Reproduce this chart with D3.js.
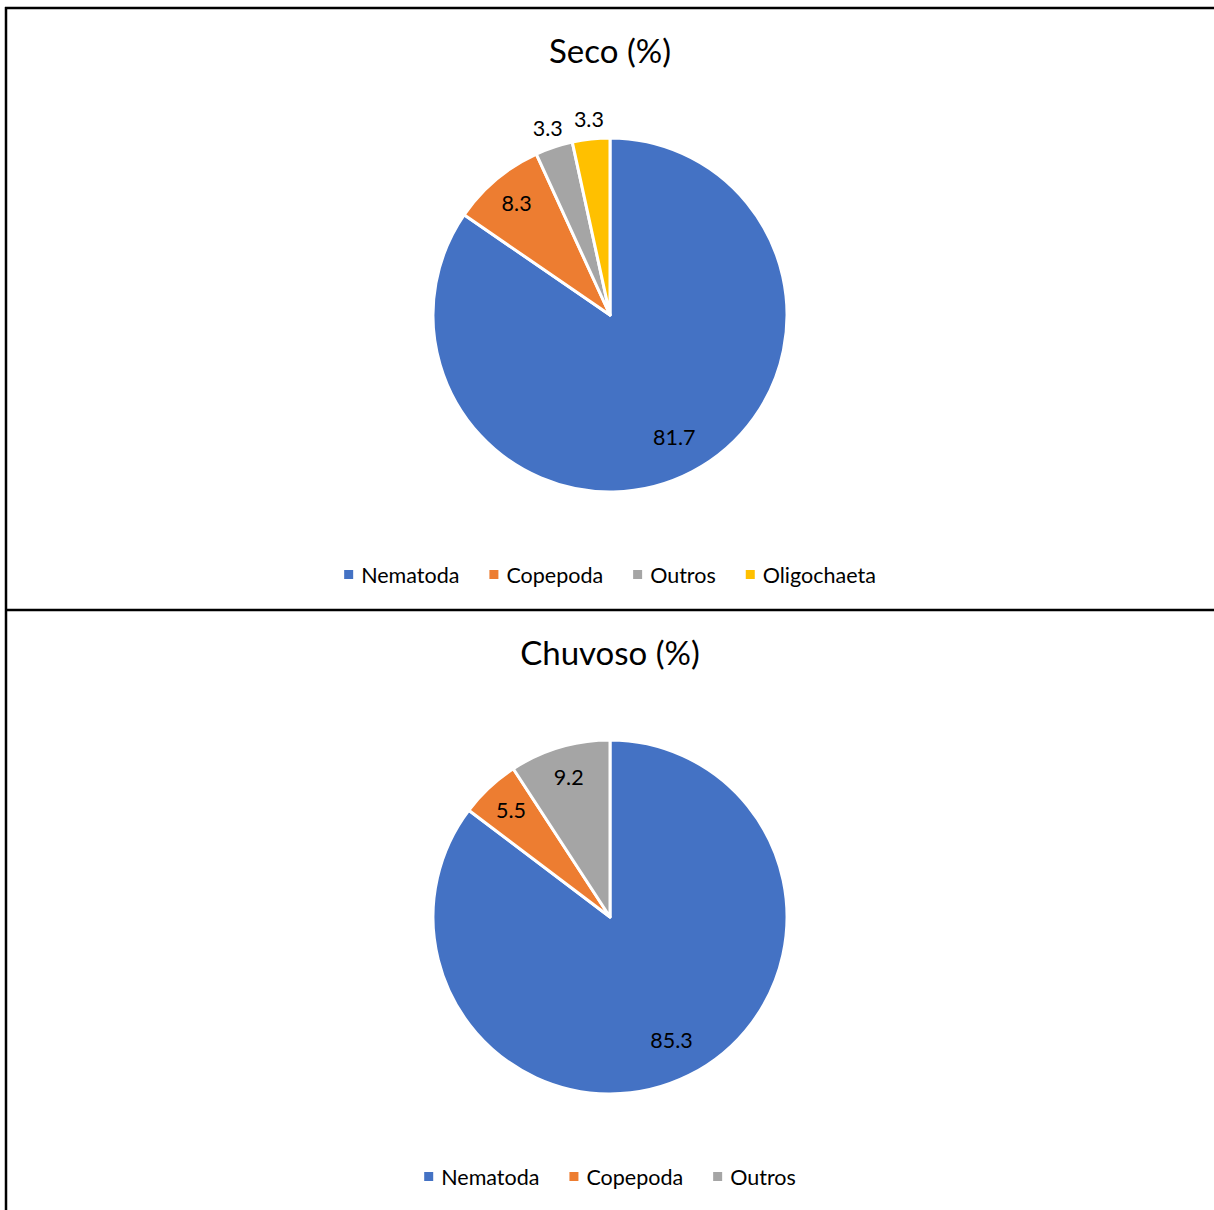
<!DOCTYPE html>
<html>
<head>
<meta charset="utf-8">
<script src="https://cdn.jsdelivr.net/npm/d3@7/dist/d3.min.js"></script>
<style>
  html, body { margin: 0; padding: 0; background: #fff; }
  svg { display: block; }
  text { font-family: Lato, "Open Sans", sans-serif; fill: #000; }
</style>
</head>
<body>
<svg id="chart" width="1214" height="1210"></svg>
<script>
// Fauna composition per season (%)
const categories = ["Nematoda", "Copepoda", "Outros", "Oligochaeta"];
const colors = ["#4472C4", "#ED7D31", "#A5A5A5", "#FFC000"];

const secoCategories = ["Nematoda", "Copepoda", "Outros", "Oligochaeta"];
const secoValues = [81.7, 8.3, 3.3, 3.3];

const chuvosoCategories = ["Nematoda", "Copepoda", "Outros"];
const chuvosoValues = [85.3, 5.5, 9.2];

const panels = [
  { title: "Seco (%)", cats: secoCategories, vals: secoValues, top: 8 },
  { title: "Chuvoso (%)", cats: chuvosoCategories, vals: chuvosoValues, top: 610 }
];

const W = 1214, H = 1210;
const svg = d3.select("#chart");
const color = d3.scaleOrdinal().domain(categories).range(colors);

const cx = 610, radius = 177;

panels.forEach(p => {
  const g = svg.append("g").attr("transform", `translate(0,${p.top})`);
  const cy = 307;

  // title
  g.append("text")
    .attr("x", cx).attr("y", 55)
    .attr("text-anchor", "middle")
    .style("font-size", "33px")
    .text(p.title);

  const data = p.cats.map((c, i) => ({ cat: c, value: p.vals[i] }));
  const pie = d3.pie().sort(null).value(d => d.value).startAngle(0).endAngle(2 * Math.PI);
  const arcs = pie(data);
  const arc = d3.arc().innerRadius(0).outerRadius(radius);
  const inLabel = d3.arc().innerRadius(radius * 0.82).outerRadius(radius * 0.82);
  const bigLabel = d3.arc().innerRadius(radius * 0.78).outerRadius(radius * 0.78);
  const outLabel = d3.arc().innerRadius(radius + 20).outerRadius(radius + 20);

  const pg = g.append("g").attr("transform", `translate(${cx},${cy})`);
  pg.selectAll("path").data(arcs).join("path")
    .attr("d", arc)
    .attr("fill", d => color(d.data.cat))
    .attr("stroke", "#fff")
    .attr("stroke-width", 3)
    .attr("stroke-linejoin", "round");

  pg.selectAll("text.val").data(arcs).join("text")
    .attr("class", "val")
    .attr("transform", d => {
      const span = d.endAngle - d.startAngle;
      const a = span < 0.3 ? outLabel : (span > Math.PI ? bigLabel : inLabel);
      return `translate(${a.centroid(d)})`;
    })
    .attr("text-anchor", "middle")
    .attr("dy", "0.35em")
    .style("font-size", "21.5px")
    .text(d => d3.format(".1f")(d.value));

  // legend, centred under the pie
  const lg = g.append("g");
  const items = lg.selectAll("g.item").data(p.cats).join("g").attr("class", "item");
  items.append("rect")
    .attr("width", 9).attr("height", 9)
    .attr("y", -5)
    .attr("fill", d => color(d));
  items.append("text")
    .attr("x", 17).attr("y", 0)
    .attr("dy", "0.35em")
    .style("font-size", "21.5px")
    .text(d => d);
  let x = 0;
  items.each(function () {
    const w = this.querySelector("text").getComputedTextLength() + 17;
    d3.select(this).attr("transform", `translate(${x},0)`);
    x += w + 30;
  });
  const total = x - 30;
  lg.attr("transform", `translate(${cx - total / 2},${567})`);
});

// panel borders
const border = svg.append("g").attr("stroke", "#000").attr("stroke-width", 2.5).attr("fill", "none");
border.append("line").attr("x1", 5).attr("x2", W).attr("y1", 8).attr("y2", 8);
border.append("line").attr("x1", 6).attr("x2", 6).attr("y1", 7).attr("y2", H);
border.append("line").attr("x1", 5).attr("x2", W).attr("y1", 610).attr("y2", 610);
</script>
</body>
</html>
